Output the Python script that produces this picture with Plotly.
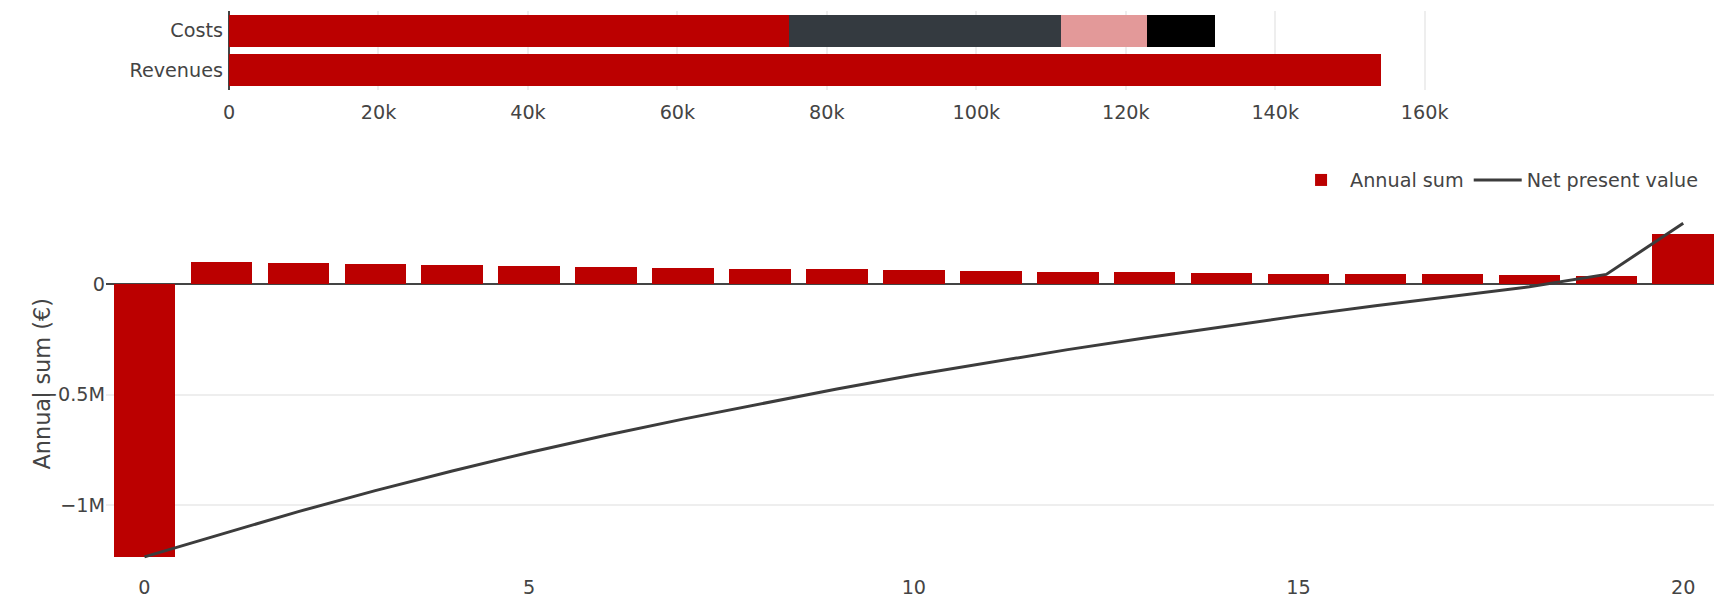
import plotly.graph_objects as go

# ---- Top chart: annual costs vs revenues (stacked horizontal bars) ----
top_categories = ["Costs", "Revenues"]
cost_parts = [74900, 36400, 11600, 9000]          # Costs bar segments
revenue_total = [154200]                          # Revenues bar
cost_colors = ["#BB0000", "#343A40", "#E39999", "#000000"]
cost_names = ["Cost part 1", "Cost part 2", "Cost part 3", "Cost part 4"]
top_ticks = [0, 20000, 40000, 60000, 80000, 100000, 120000, 140000, 160000]

# ---- Bottom chart: annual sums and net present value per year ----
years = list(range(0, 21))
annual_sum = [-1235000, 101000, 96000, 92000, 87000, 83000, 78000, 75000, 71000,
              69000, 64000, 61000, 57000, 55000, 52000, 49000, 47000, 45000,
              42000, 40000, 229000]
npv = [-1235000, -1131000, -1030000, -935000, -846000, -762000, -684000, -611000,
       -541000, -474000, -411000, -352000, -296000, -243000, -192000, -143000,
       -97000, -53000, -11000, 45000, 277000]
y_title = "Annual sum (€)"

RED = "#BB0000"
FONT = "DejaVu Sans, Verdana, sans-serif"
FS = 19.2

fig = go.Figure()

for val, col, name in zip(cost_parts, cost_colors, cost_names):
    fig.add_trace(go.Bar(x=[val], y=["Costs"], orientation="h", marker_color=col,
                         name=name, showlegend=False, xaxis="x", yaxis="y"))
fig.add_trace(go.Bar(x=revenue_total, y=["Revenues"], orientation="h", marker_color=RED,
                     name="Revenues", showlegend=False, xaxis="x", yaxis="y"))

fig.add_trace(go.Bar(x=years, y=annual_sum, marker_color=RED, name="Annual sum",
                     xaxis="x2", yaxis="y2"))
fig.add_trace(go.Scatter(x=years, y=npv, mode="lines", name="Net present value",
                         line=dict(color="#3C3C3C", width=3), xaxis="x2", yaxis="y2"))

fig.update_layout(
    template="none",
    width=1714, height=602,
    margin=dict(l=106, r=0, t=11, b=37),
    barmode="stack",
    bargap=0.2,
    font=dict(family=FONT, size=FS, color="#444"),
    paper_bgcolor="white", plot_bgcolor="white",
    xaxis=dict(domain=[0.0765, 0.8308], range=[0, 162300], tickvals=top_ticks,
               showgrid=True, gridcolor="#eee", gridwidth=1.6,
               zeroline=True, zerolinecolor="#444", zerolinewidth=1.6,
               anchor="y", tickfont=dict(size=FS), ticklabelstandoff=9),
    yaxis=dict(domain=[0.8574, 1.0], categoryorder="array",
               categoryarray=["Revenues", "Costs"], showgrid=False,
               anchor="x", tickfont=dict(size=FS), ticklabelstandoff=5),
    xaxis2=dict(domain=[0, 1], range=[-0.5, 20.4], dtick=5, tick0=0,
                showgrid=False, zeroline=False, anchor="y2", tickfont=dict(size=FS),
                ticklabelstandoff=9),
    yaxis2=dict(domain=[0, 0.6516], range=[-1272000, 364000], dtick=500000,
                showgrid=True, gridcolor="#eee", gridwidth=1.6,
                zeroline=True, zerolinecolor="#444", zerolinewidth=1.6,
                anchor="x2", tickfont=dict(size=FS)),
    legend=dict(orientation="h", x=0.7376, xanchor="left", y=0.695, yanchor="middle",
                font=dict(size=FS), bgcolor="rgba(0,0,0,0)", traceorder="normal",
                itemwidth=48),
    annotations=[dict(text=y_title, textangle=-90, xref="paper", yref="paper",
                      x=-0.0404, y=0.3258, xanchor="center", yanchor="middle",
                      showarrow=False, font=dict(size=22.4, color="#444"))],
)

fig.write_html("out.html")
